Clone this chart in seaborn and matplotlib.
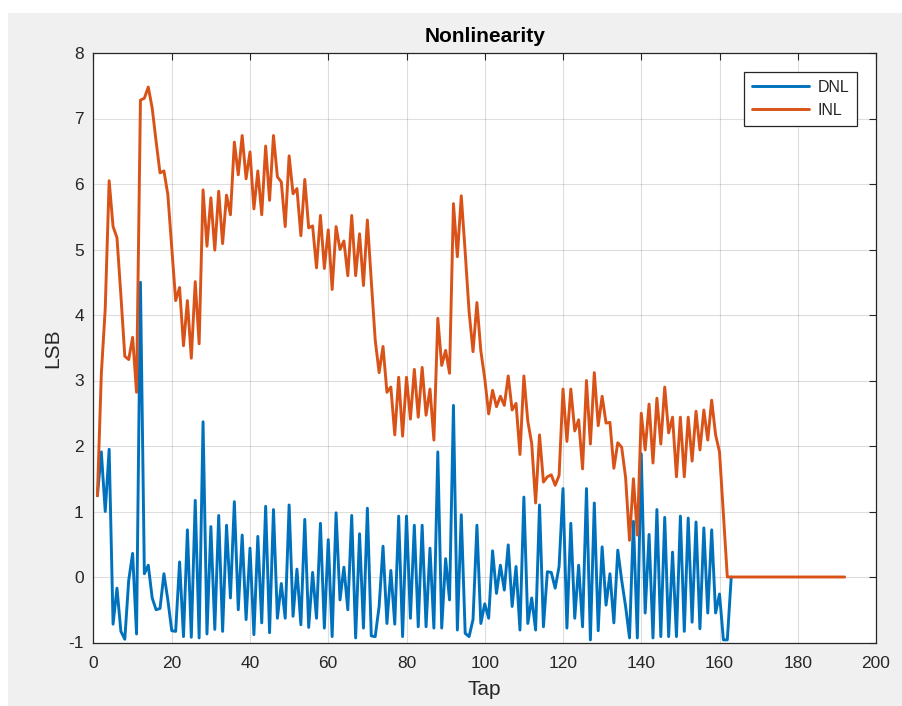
import numpy as np
import pandas as pd
import matplotlib
matplotlib.use("Agg")
import matplotlib.pyplot as plt
from matplotlib.patches import Rectangle
import seaborn as sns

# ---------------- data ----------------
dnl_values = [
    1.24, 1.91, 1.00, 1.95, -0.72, -0.17, -0.83, -0.95, -0.05, 0.36,
    -0.87, 4.50, 0.05, 0.18, -0.32, -0.50, -0.48, 0.05, -0.35, -0.82,
    -0.83, 0.23, -0.91, 0.72, -0.92, 1.17, -0.93, 2.37, -0.87, 0.77,
    -0.80, 0.94, -0.83, 0.79, -0.32, 1.15, -0.50, 0.64, -0.65, 0.44,
    -0.88, 0.62, -0.70, 1.08, -0.85, 1.03, -0.63, -0.10, -0.63, 1.10,
    -0.60, 0.12, -0.73, 0.88, -0.77, 0.07, -0.63, 0.82, -0.78, 0.57,
    -0.91, 0.98, -0.35, 0.15, -0.50, 0.94, -0.93, 0.66, -0.78, 1.05,
    -0.90, -0.91, -0.45, 0.47, -0.71, 0.10, -0.72, 0.93, -0.91, 0.93,
    -0.63, 0.79, -0.76, 0.79, -0.76, 0.44, -0.78, 1.91, -0.78, 0.28,
    -0.35, 2.62, -0.81, 0.95, -0.86, -0.91, -0.65, 0.79, -0.71, -0.41,
    -0.63, 0.40, -0.25, 0.18, -0.20, 0.49, -0.45, 0.16, -0.81, 1.22,
    -0.71, -0.32, -0.81, 1.10, -0.76, 0.08, 0.07, -0.17, 0.16, 1.35,
    -0.78, 0.82, -0.63, 0.18, -0.76, 1.35, -0.96, 1.13, -0.82, 0.46,
    -0.43, 0.05, -0.70, 0.41, -0.05, -0.45, -0.93, 0.85, -0.93, 1.88,
    -0.55, 0.65, -0.93, 1.03, -0.91, 0.91, -0.91, 0.38, -0.91, 0.93,
    -0.83, 0.90, -0.69, 0.84, -0.79, 0.75, -0.55, 0.72, -0.55, -0.26,
    -0.96, -0.96, 0.00,
]

inl_values = [
    1.24, 3.10, 4.10, 6.05, 5.35, 5.18, 4.30, 3.37, 3.32, 3.66,
    2.82, 7.28, 7.31, 7.48, 7.16, 6.65, 6.17, 6.20, 5.84, 5.02,
    4.22, 4.42, 3.53, 4.22, 3.34, 4.51, 3.56, 5.91, 5.05, 5.79,
    4.99, 5.89, 5.09, 5.83, 5.53, 6.64, 6.14, 6.74, 6.08, 6.49,
    5.62, 6.20, 5.53, 6.58, 5.75, 6.74, 6.11, 6.03, 5.35, 6.43,
    5.85, 5.93, 5.21, 6.07, 5.33, 5.36, 4.72, 5.52, 4.71, 5.30,
    4.39, 5.35, 5.00, 5.13, 4.60, 5.52, 4.60, 5.24, 4.45, 5.45,
    4.52, 3.62, 3.12, 3.52, 2.82, 2.90, 2.17, 3.05, 2.15, 3.05,
    2.41, 3.17, 2.44, 3.20, 2.47, 2.87, 2.09, 3.95, 3.23, 3.46,
    3.11, 5.70, 4.89, 5.82, 4.96, 4.05, 3.44, 4.19, 3.45, 3.03,
    2.49, 2.85, 2.60, 2.76, 2.62, 3.07, 2.55, 2.65, 1.87, 3.07,
    2.38, 2.04, 1.13, 2.17, 1.45, 1.53, 1.56, 1.40, 1.55, 2.87,
    2.07, 2.87, 2.23, 2.40, 1.65, 3.00, 2.03, 3.12, 2.31, 2.76,
    2.35, 2.36, 1.66, 2.05, 1.98, 1.52, 0.56, 1.50, 0.64, 2.50,
    1.94, 2.64, 1.74, 2.73, 2.03, 2.90, 2.20, 2.44, 1.53, 2.44,
    1.53, 2.44, 1.77, 2.53, 1.94, 2.55, 2.09, 2.70, 2.17, 1.91,
    0.95, 0.00, 0.00, 0.00, 0.00, 0.00, 0.00, 0.00, 0.00, 0.00,
    0.00, 0.00, 0.00, 0.00, 0.00, 0.00, 0.00, 0.00, 0.00, 0.00,
    0.00, 0.00, 0.00, 0.00, 0.00, 0.00, 0.00, 0.00, 0.00, 0.00,
    0.00, 0.00,
]

dnl_taps = np.arange(1, len(dnl_values) + 1)
inl_taps = np.arange(1, len(inl_values) + 1)

series_names = ["DNL", "INL"]
series_colors = {"DNL": "#0072BD", "INL": "#D95319"}
x_ticks = list(range(0, 201, 20))
y_ticks = list(range(-1, 9))

df = pd.concat([
    pd.DataFrame({"Tap": dnl_taps, "LSB": dnl_values, "series": "DNL"}),
    pd.DataFrame({"Tap": inl_taps, "LSB": inl_values, "series": "INL"}),
], ignore_index=True)

# ---------------- style ----------------
sns.set_theme(style="white")
plt.rcParams['font.family'] = ['Liberation Sans', 'DejaVu Sans']
plt.rcParams['axes.unicode_minus'] = False
dark = "#262626"

W, H = 903, 706
fig = plt.figure(figsize=(W / 100, H / 100), dpi=100, facecolor="white")
fig.patches.append(Rectangle((8 / W, -0.01), 1.02, 1.01 - 13 / H, transform=fig.transFigure,
                             facecolor="#F0F0F0", edgecolor="none", zorder=-10))

left, right, top, bottom = 93.5, 876, 53, 642.5
ax = fig.add_axes([left / W, (H - bottom) / H, (right - left) / W, (bottom - top) / H])
ax.set_facecolor("white")

sns.lineplot(data=df, x="Tap", y="LSB", hue="series", hue_order=series_names,
             palette=series_colors, linewidth=2.1, estimator=None, sort=False, ax=ax)

ax.set_xlim(0, 200)
ax.set_ylim(-1, 8)
ax.set_xticks(x_ticks)
ax.set_yticks(y_ticks)
ax.grid(True, color=dark, alpha=0.15, linewidth=0.8)
ax.set_axisbelow(True)
for s in ax.spines.values():
    s.set_visible(True)
    s.set_color(dark)
    s.set_linewidth(0.9)
ax.tick_params(direction="in", length=5, width=0.8, top=True, right=True,
               colors=dark, labelsize=12.5)
ax.tick_params(axis="x", pad=10)
ax.tick_params(axis="y", pad=7)

ax.set_title("Nonlinearity", fontsize=15, fontweight="bold", color="black", pad=8)
ax.set_xlabel("Tap", fontsize=15, color=dark, labelpad=6)
ax.set_ylabel("LSB", fontsize=15, color=dark, labelpad=4)

handles, labels = ax.get_legend_handles_labels()
leg = ax.legend(handles, labels, loc="upper right", bbox_to_anchor=(0.976, 0.968),
                borderaxespad=0, fontsize=11.5, handlelength=3.6, handletextpad=0.5,
                labelspacing=0.5, borderpad=0.5, fancybox=False, framealpha=1,
                edgecolor=dark)
leg.get_frame().set_linewidth(0.9)
for t in leg.get_texts():
    t.set_color(dark)

fig.savefig("out.png", dpi=100, facecolor=fig.get_facecolor())
